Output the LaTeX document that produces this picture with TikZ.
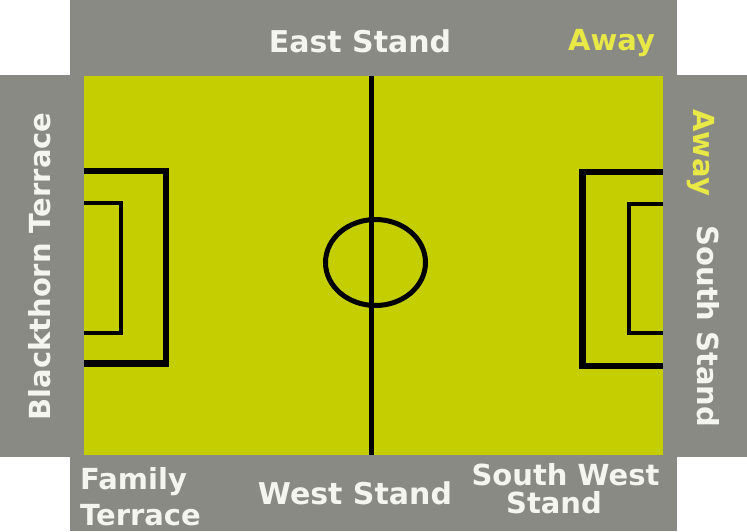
\documentclass[tikz,border=0pt]{standalone}
\usepackage{fontspec}
\setmainfont{DejaVu Sans}
\begin{document}
\begin{tikzpicture}[x=1pt,y=-1pt,
  standcol/.style={fill={rgb,255:red,138;green,138;blue,133}},
  pitchcol/.style={fill={rgb,255:red,197;green,206;blue,0}},
  markline/.style={draw=black,line width=5pt},
  thickline/.style={draw=black,line width=6.5pt},
  thinline/.style={draw=black,line width=4pt},
  lbl/.style={inner sep=0pt,text={rgb,255:red,245;green,245;blue,240},font=\bfseries\fontsize{29}{34}\selectfont},
  biglbl/.style={lbl,font=\bfseries\fontsize{30}{34}\selectfont},
  awaylbl/.style={lbl,text={rgb,255:red,232;green,232;blue,70}}]
\useasboundingbox (0,0) rectangle (747,531);
% stands
\fill[standcol] (70,0) rectangle (677,531);
\fill[standcol] (0,75) rectangle (747,457);
% pitch
\fill[pitchcol] (84,76) rectangle (663,455);
% markings
\draw[markline] (371,76) -- (371,455);
\draw[markline] (375.5,262.5) ellipse [x radius=50pt, y radius=43pt];
\draw[thickline] (84,171) -- (166,171) -- (166,363.5) -- (84,363.5);
\draw[thinline] (84,203) -- (121,203) -- (121,333) -- (84,333);
\draw[thickline] (663,172) -- (582.5,172) -- (582.5,366) -- (663,366);
\draw[thinline] (663,203.5) -- (628.5,203.5) -- (628.5,332.5) -- (663,332.5);
% labels
\node[biglbl,anchor=base] (east) at (360,52) {East Stand};
\node[awaylbl,anchor=base] (awaytop) at (611.5,50) {Away};
\node[biglbl,anchor=base] (west) at (355,504) {West Stand};
\node[lbl,anchor=base west] (fam1) at (80,489) {Family};
\node[lbl,anchor=base west] (fam2) at (80,525) {Terrace};
\node[lbl,anchor=base] (sw1) at (565.5,485) {South West};
\node[lbl,anchor=base] (sw2) at (554,513) {Stand};
\node[lbl,anchor=base,rotate=90] (black) at (50,266.5) {Blackthorn Terrace};
\node[awaylbl,anchor=base,rotate=-90] (awayside) at (693,152.5) {Away};
\node[lbl,anchor=base,rotate=-90] (south) at (697,326.5) {South Stand};
\end{tikzpicture}
\end{document}
